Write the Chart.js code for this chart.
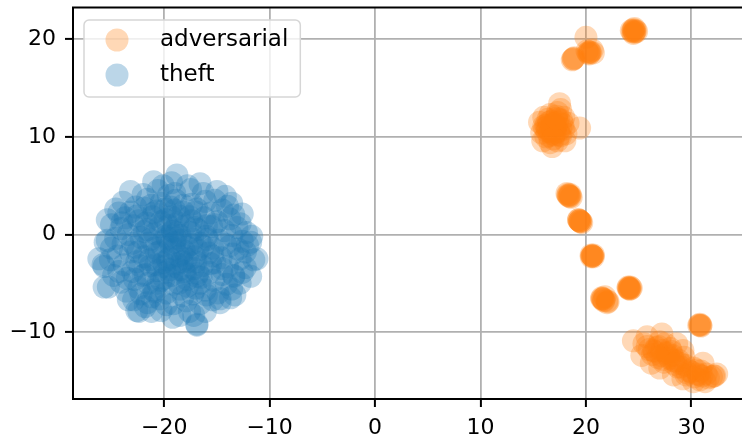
<!DOCTYPE html>
<html>
<head>
<meta charset="utf-8">
<script src="https://cdn.jsdelivr.net/npm/chart.js@4/dist/chart.umd.min.js"></script>
<style>
  html, body { margin: 0; padding: 0; background: #fff; }
  #wrap { width: 742px; height: 439px; }
</style>
</head>
<body>
<div id="wrap"><canvas id="c" width="742" height="439"></canvas></div>
<script>
// ---- Data ----
const seriesLabels = ['adversarial', 'theft'];

const adversarialX = [
  // top right group
  24.3, 24.6, 24.5, 24.7, 24.4, 24.6, 24.5, 24.8, 24.5, 24.6,
  // groups near x=20, y=18..20
  20.0, 20.2, 20.4, 20.6, 20.3, 20.1, 20.7, 20.3, 20.4, 18.8, 18.9, 18.7, 18.8,
  // big group near (17, 11)
  15.8, 16.2, 16.5, 16.9, 17.3, 17.0, 17.6, 16.4, 17.2, 17.6, 16.0, 15.9, 16.6, 17.3, 18.1, 18.3,
  17.9, 16.8, 16.3, 17.4, 16.7, 17.1, 16.5, 17.8, 16.1, 19.4, 17.5, 15.6, 16.8, 18.0,
  16.9, 17.2, 16.6, 17.0, 16.8, 17.4, 16.4, 17.1, 16.7, 17.5, 16.3, 17.7,
  16.2, 17.9, 16.6, 17.3, 16.0, 17.6, 16.9, 17.2,
  // (18.4, 4)
  18.3, 18.5, 18.4, 18.2, 18.6, 18.4, 18.3, 18.5,
  // (19.4, 1.4)
  19.4, 19.5, 19.3, 19.6, 19.4, 19.5, 19.3, 19.4,
  // (20.6, -2.2)
  20.6, 20.5, 20.7, 20.6, 20.5, 20.7, 20.6,
  // (21.7, -6.7)
  21.6, 21.5, 21.7, 22.1, 22.0, 21.8, 21.6, 21.7, 22.0, 21.5,
  // (24.1, -5.5)
  24.1, 24.2, 24.0, 24.3, 24.1, 24.2, 24.0, 24.1,
  // (30.8, -9.3)
  30.8, 30.9, 30.8, 30.7, 30.9,
  // bottom band
  24.5, 25.8, 27.2, 28.6, 29.2, 25.3, 26.2, 27.0, 28.3, 29.2, 30.2, 31.3, 32.4, 31.1, 30.2,
  26.9, 27.6, 28.3, 28.9, 25.8, 29.5, 31.9, 30.6, 27.5,
  27.8, 28.1, 27.3, 26.5, 29.8, 30.5, 31.0, 28.7, 26.0, 27.0,
  26.3, 27.1, 27.9, 28.5, 29.0, 29.6, 30.3, 30.9, 31.6, 32.2, 26.7, 28.0, 29.3, 30.8, 25.5, 27.4,
  26.4, 27.2, 27.7, 28.2, 28.8, 29.4, 30.0, 30.7, 31.4, 32.1, 26.8, 28.4
];
const adversarialY = [
  20.9, 20.7, 21.0, 20.9, 20.8, 21.1, 20.6, 20.8, 20.9, 20.8,
  20.2, 18.6, 18.7, 18.9, 18.5, 18.8, 18.6, 18.7, 18.6, 18.0, 18.1, 17.9, 18.0,
  10.4, 11.2, 10.1, 10.8, 11.5, 10.2, 10.9, 11.8, 12.1, 12.8, 12.0, 9.6, 9.4, 9.6, 10.3, 11.4,
  12.0, 11.3, 10.6, 10.6, 10.9, 11.0, 11.5, 11.3, 10.9, 10.9, 13.4, 11.5, 9.0, 9.6,
  10.7, 11.1, 10.5, 11.4, 10.3, 11.8, 10.8, 10.4, 11.6, 10.2, 11.0, 11.7,
  10.0, 10.8, 12.3, 12.5, 11.1, 10.1, 9.8, 11.9,
  4.0, 4.1, 3.9, 4.2, 3.8, 4.0, 4.1, 3.9,
  1.4, 1.3, 1.5, 1.2, 1.4, 1.3, 1.5, 1.4,
  -2.2, -2.3, -2.1, -2.2, -2.1, -2.3, -2.2,
  -6.6, -6.5, -6.7, -6.9, -7.0, -6.4, -6.6, -6.8, -6.8, -6.6,
  -5.5, -5.6, -5.4, -5.5, -5.6, -5.4, -5.5, -5.5,
  -9.3, -9.4, -9.2, -9.3, -9.3,
  -10.9, -10.5, -10.2, -11.2, -11.9, -12.4, -13.2, -13.7, -14.4, -14.8, -15.1, -15.1, -14.3, -13.2, -13.7,
  -11.5, -12.2, -12.9, -13.2, -11.5, -14.4, -14.6, -14.3, -11.2,
  -12.5, -12.0, -12.8, -12.0, -14.0, -13.9, -14.5, -13.6, -11.8, -11.0,
  -12.3, -12.4, -12.7, -13.0, -13.6, -14.2, -14.6, -14.0, -14.7, -14.5, -11.6, -11.7, -12.6, -14.9, -11.2, -13.1,
  -11.9, -11.9, -12.1, -12.4, -12.9, -13.4, -14.1, -14.4, -14.3, -14.5, -12.6, -13.3
];

const theftX = [
  // outer circles
  -18.8, -21.0, -23.2, -16.6, -15.0, -13.6, -12.6, -11.7, -11.8, -11.2, -11.5, -11.8, -13.4, -13.3,
  -13.7, -14.7, -16.1, -16.9, -16.9, -18.5, -19.2, -21.2, -22.6, -22.4, -23.4, -25.3, -25.7, -25.7,
  -25.8, -26.2, -24.3, -25.6, -25.4, -25.4, -24.3, -22.7, -22.4, -15.2, -16.3, -12.8, -13.4, -14.7,
  // body
  -20.1, -19.3, -17.8,
  -22.0, -20.6, -19.0, -17.5, -14.2,
  -23.9, -21.6, -20.3, -18.9, -17.4, -16.1, -14.0,
  -24.6, -23.2, -21.9, -20.7, -19.4, -18.2, -16.9, -15.6, -14.5, -13.4,
  -25.0, -23.7, -22.4, -21.1, -19.9, -18.6, -17.4, -16.2, -15.0, -13.8, -12.8,
  -24.1, -22.9, -21.6, -20.4, -19.2, -18.0, -16.8, -15.5, -14.3, -13.1, -12.2,
  -24.6, -23.4, -22.2, -20.9, -19.7, -18.5, -17.3, -16.0, -14.8, -13.6, -12.6,
  -25.0, -23.9, -22.7, -21.5, -20.2, -19.0, -17.8, -16.6, -15.4, -14.2, -13.0, -12.1,
  -24.4, -23.2, -21.9, -20.7, -19.5, -18.3, -17.1, -15.8, -14.6, -13.5, -12.3,
  -25.1, -23.8, -22.6, -21.3, -20.1, -18.9, -17.7, -16.4, -15.2, -14.0, -12.3,
  -24.8, -23.0, -21.8, -20.6, -19.3, -18.1, -16.9, -15.7, -14.5, -12.6,
  -24.1, -22.8, -21.5, -20.3, -19.1, -17.8, -16.6, -15.3, -14.1, -12.8,
  -23.6, -22.2, -21.0, -19.8, -18.5, -17.3, -16.1, -14.9, -13.6,
  -22.9, -21.6, -20.4, -19.1, -17.9, -16.6, -15.4,
  -21.8, -20.3, -19.8, -17.6, -17.2,
  // dense core
  -19.0, -18.4, -19.8, -20.5, -17.9, -18.8, -19.6, -17.5, -20.8, -18.0, -19.3, -16.8, -21.3, -18.6,
  -17.2, -20.0, -21.7, -16.0, -19.9, -18.2, -22.5, -15.6, -17.0, -20.9, -19.5, -18.8, -17.6, -21.0,
  -16.5, -22.0,
  -19.4, -18.9, -20.1, -18.1, -19.7, -20.9, -17.4, -18.5, -19.9, -21.4, -17.0, -16.3, -21.9, -20.3,
  -18.7, -17.1, -15.9, -22.3, -20.6, -18.6, -16.8, -15.4, -23.0, -21.2, -19.0, -17.0, -15.2, -14.5,
  -23.5, -21.2, -18.2, -16.0, -24.0, -13.8, -19.6, -22.6, -17.8, -20.0, -18.3, -19.2
];
const theftY = [
  6.1, 5.4, 4.4, 5.2, 4.4, 3.2, 2.1, -0.2, -0.8, -2.5, -2.6, -4.3, -4.2, -6.2,
  -6.5, -7.0, -7.9, -9.3, -9.2, -8.3, -8.5, -7.9, -7.8, -7.9, -6.7, -5.4, -5.4, -3.3,
  -3.1, -2.5, -3.8, -0.8, -0.6, 1.5, 2.2, 2.8, -5.5, 3.5, 4.2, -2.5, -4.3, -6.6,
  5.0, 5.3, 5.0,
  4.1, 4.5, 4.2, 4.6, 3.9,
  3.3, 3.6, 3.2, 3.5, 3.1, 3.4, 2.9,
  2.6, 2.3, 2.7, 2.4, 2.8, 2.3, 2.6, 2.2, 2.5, 2.0,
  1.0, 1.7, 1.4, 1.8, 1.5, 1.9, 1.4, 1.7, 1.3, 1.6, 1.1,
  0.6, 0.9, 0.5, 0.8, 0.4, 0.9, 0.5, 0.8, 0.4, 0.7, 0.2,
  -0.4, 0.0, -0.3, 0.1, -0.4, -0.1, -0.5, -0.2, -0.6, -0.1, -0.7,
  -1.4, -1.0, -1.3, -0.9, -1.2, -0.8, -1.3, -0.9, -1.4, -1.0, -1.5, -1.1,
  -2.2, -1.8, -2.3, -1.9, -2.4, -2.0, -2.3, -1.9, -2.4, -2.0, -1.8,
  -2.6, -3.1, -2.8, -3.2, -2.9, -3.3, -2.8, -3.2, -2.9, -3.3, -3.4,
  -4.2, -3.8, -4.1, -3.7, -4.2, -3.8, -4.3, -3.9, -4.1, -3.9,
  -4.9, -4.6, -5.0, -4.7, -5.1, -4.6, -5.0, -4.7, -5.1, -5.0,
  -5.8, -6.1, -5.7, -6.0, -5.6, -6.1, -5.7, -6.0, -5.6,
  -6.7, -7.0, -6.6, -7.1, -6.8, -7.1, -6.7,
  -7.4, -7.8, -7.2, -7.9, -8.3,
  -1.5, -0.6, -0.2, -1.8, -2.5, -3.0, 0.9, 0.2, -3.1, -4.0, 1.8, -1.6, -0.5, -2.2,
  -3.5, -4.5, 1.2, 0.9, 2.6, 3.0, -1.8, -3.0, -5.5, -5.9, -3.6, 0.2, 1.8, 2.2,
  -4.4, -4.2,
  -1.0, -0.4, -0.7, -1.7, -2.6, -1.4, -1.0, -3.6, -3.9, -2.6, -2.8, -1.2, 0.3, 1.3,
  1.2, 0.7, -0.5, -3.2, -5.0, -5.0, -4.0, -2.2, -0.9, 3.0, 2.5, 2.3, 1.0, -3.5,
  -4.5, -6.4, -6.3, -6.2, 1.2, -1.2, 4.0, 1.9, -5.3, -3.3, -2.8, 0.3
];

const xTicks = [-20, -10, 0, 10, 20, 30];
const yTicks = [-10, 0, 10, 20];

// ---- Chart ----
const toPts = (xs, ys) => xs.map((x, i) => ({ x: x, y: ys[i] }));
const FONT = 'DejaVu Sans';
Chart.defaults.font.family = FONT;

const topSpine = {
  id: 'topSpine',
  afterDraw(chart) {
    const { ctx, chartArea } = chart;
    ctx.save();
    ctx.strokeStyle = '#000';
    ctx.lineWidth = 2;
    ctx.beginPath();
    ctx.moveTo(chartArea.left - 1, chartArea.top);
    ctx.lineTo(chartArea.right, chartArea.top);
    ctx.stroke();
    ctx.restore();
  }
};

const innerLegend = {
  id: 'innerLegend',
  afterDraw(chart) {
    const { ctx, chartArea } = chart;
    const ds = chart.data.datasets;
    ctx.save();
    ctx.font = '23px "' + FONT + '"';
    let maxW = 0;
    ds.forEach(d => { maxW = Math.max(maxW, ctx.measureText(d.label).width); });
    const bx = chartArea.left + 11, by = chartArea.top + 12.5;
    const textX = bx + 76;
    const bw = textX - bx + maxW + 12, bh = 77;
    const r = 5;
    ctx.beginPath();
    ctx.moveTo(bx + r, by);
    ctx.lineTo(bx + bw - r, by);
    ctx.arcTo(bx + bw, by, bx + bw, by + r, r);
    ctx.lineTo(bx + bw, by + bh - r);
    ctx.arcTo(bx + bw, by + bh, bx + bw - r, by + bh, r);
    ctx.lineTo(bx + r, by + bh);
    ctx.arcTo(bx, by + bh, bx, by + bh - r, r);
    ctx.lineTo(bx, by + r);
    ctx.arcTo(bx, by, bx + r, by, r);
    ctx.closePath();
    ctx.fillStyle = 'rgba(255,255,255,0.8)';
    ctx.fill();
    ctx.strokeStyle = '#d6d6d6';
    ctx.lineWidth = 1.5;
    ctx.stroke();
    ds.forEach((d, i) => {
      const cy = by + 20 + i * 35;
      ctx.beginPath();
      ctx.arc(bx + 33, cy, 11.5, 0, Math.PI * 2);
      ctx.fillStyle = d.backgroundColor;
      ctx.fill();
      ctx.fillStyle = '#000';
      ctx.textBaseline = 'middle';
      ctx.textAlign = 'left';
      ctx.fillText(d.label, textX, cy);
    });
    ctx.restore();
  }
};

const minusFmt = v => String(v).replace('-', '\u2212');
const noPad = s => { s.paddingTop = 0; s.paddingBottom = 0; s.paddingLeft = 0; s.paddingRight = 0; };

new Chart(document.getElementById('c'), {
  type: 'scatter',
  data: {
    datasets: [
      { label: seriesLabels[0], data: toPts(adversarialX, adversarialY),
        backgroundColor: 'rgba(255,127,14,0.3)', borderWidth: 0, pointRadius: 11.5, pointHoverRadius: 11.5 },
      { label: seriesLabels[1], data: toPts(theftX, theftY),
        backgroundColor: 'rgba(31,119,180,0.3)', borderWidth: 0, pointRadius: 11.5, pointHoverRadius: 11.5 }
    ]
  },
  options: {
    responsive: false,
    animation: false,
    layout: { autoPadding: false, padding: { top: 7.5, right: 0, bottom: 0, left: 0 } },
    plugins: { legend: { display: false }, tooltip: { enabled: false } },
    scales: {
      x: {
        type: 'linear', min: -28.65, max: 34.8,
        afterFit: s => { s.height = 40; noPad(s); },
        afterBuildTicks: s => { s.ticks = xTicks.map(v => ({ value: v })); },
        ticks: { includeBounds: false, color: '#000', font: { size: 22 }, padding: 8, maxRotation: 0, callback: minusFmt },
        grid: { color: '#b0b0b0', lineWidth: 1.8, tickColor: '#000', tickWidth: 2, tickLength: 8 },
        border: { color: '#000', width: 2 }
      },
      y: {
        type: 'linear', min: -16.87, max: 23.26,
        afterFit: s => { s.width = 73; noPad(s); },
        afterBuildTicks: s => { s.ticks = yTicks.map(v => ({ value: v })); },
        ticks: { includeBounds: false, color: '#000', font: { size: 22 }, padding: 9, callback: minusFmt },
        grid: { color: '#b0b0b0', lineWidth: 1.8, tickColor: '#000', tickWidth: 2, tickLength: 8 },
        border: { color: '#000', width: 2 }
      }
    }
  },
  plugins: [topSpine, innerLegend]
});
</script>
</body>
</html>
